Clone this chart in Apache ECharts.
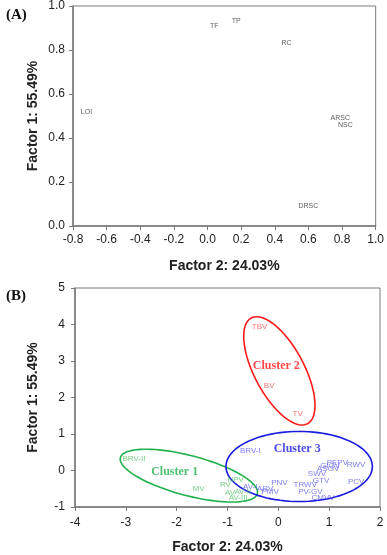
<!DOCTYPE html>
<html>
<head>
<meta charset="utf-8">
<script src="https://cdn.jsdelivr.net/npm/echarts@6/dist/echarts.min.js"></script>
<style>
  html, body { margin:0; padding:0; background:#fff; }
  #main { width:387px; height:555px; }
</style>
</head>
<body>
<div id="main"></div>
<script>
// (A) loadings
const loadingNames = ['TF', 'TP', 'RC', 'LOI', 'ARSC', 'NSC', 'DRSC'];
const loadingF2 = [0.04, 0.17, 0.47, -0.72, 0.79, 0.82, 0.60];
const loadingF1 = [0.91, 0.93, 0.83, 0.52, 0.49, 0.46, 0.09];

// (B) scores, per cluster
const c1Names = ['BRV-II', 'MV', 'RV', 'NPV', 'AV', 'AV-III', 'AV-II'];
const c1F2 = [-2.84, -1.57, -1.04, -0.84, -0.95, -0.79, -0.70];
const c1F1 = [0.33, -0.49, -0.38, -0.25, -0.60, -0.74, -0.58];

const c2Names = ['TBV', 'BV', 'TV'];
const c2F2 = [-0.37, -0.18, 0.38];
const c2F1 = [3.93, 2.32, 1.56];

const c3Names = ['BRV-I', 'AV-I', 'ARV', 'PMV', 'PNV', 'TRWV', 'PV-GV', 'CMVV', 'GTV', 'SWV', 'ASGV', 'GIGV', 'PEPV', 'RWV', 'PCV'];
const c3F2 = [-0.55, -0.55, -0.26, -0.16, 0.02, 0.53, 0.63, 0.88, 0.84, 0.76, 0.98, 1.02, 1.16, 1.53, 1.53];
const c3F1 = [0.55, -0.44, -0.49, -0.57, -0.33, -0.38, -0.57, -0.74, -0.27, -0.08, 0.05, 0.14, 0.22, 0.16, -0.30];

// cluster captions and ellipses: [centre x, centre y, semi-axis u (x,y), semi-axis v (x,y)]
const clusterNames = ['Cluster 1', 'Cluster 2', 'Cluster 3'];
const clusterLabelPos = [[-2.04, -0.03], [-0.04, 2.87], [0.37, 0.60]];
const clusterEllipses = [
  [-1.76, -0.14, 1.347, -0.493, -0.100, -0.529],
  [0.02, 2.73, 0.553, -1.448, -0.431, -0.322],
  [0.41, 0.11, 1.44, 0.0, 0.0, 0.96]
];
const clusterColors = ['#22b14c', '#ff1a1a', '#1a1ae0'];
const pointColors = ['#55c46c', '#ff5252', '#5c5cee'];

function pts(names, xs, ys) {
  return names.map((n, i) => ({ name: n, value: [xs[i], ys[i]] }));
}

const axisCommon = {
  splitLine: { show: false },
  axisLine: { onZero: false, lineStyle: { color: '#7a7a7a', width: 1.5 } },
  axisTick: { show: true, length: 4, lineStyle: { color: '#7a7a7a' } },
  axisLabel: { color: '#222', fontSize: 12, fontFamily: 'Liberation Sans' },
  nameTextStyle: { color: '#222', fontSize: 14, fontWeight: 'bold', fontFamily: 'Liberation Sans' },
  nameLocation: 'middle',
  nameMoveOverlap: false
};

function labelSeries(xi, data, color, size) {
  return {
    type: 'scatter',
    xAxisIndex: xi, yAxisIndex: xi,
    symbolSize: 1,
    itemStyle: { color: 'rgba(0,0,0,0)' },
    data: data,
    label: {
      show: true, position: 'inside', formatter: '{b}',
      color: color, fontSize: size, fontFamily: 'Liberation Sans'
    },
    silent: true
  };
}

function ellipseSeries(k) {
  return {
    type: 'custom',
    xAxisIndex: 1, yAxisIndex: 1,
    data: [clusterEllipses[k]],
    encode: { x: 0, y: 1 },
    silent: true,
    renderItem: function (params, api) {
      const e = clusterEllipses[k];
      const points = [];
      for (let i = 0; i < 96; i++) {
        const t = i / 96 * Math.PI * 2;
        points.push(api.coord([
          e[0] + Math.cos(t) * e[2] + Math.sin(t) * e[4],
          e[1] + Math.cos(t) * e[3] + Math.sin(t) * e[5]
        ]));
      }
      return {
        type: 'polygon',
        shape: { points: points },
        style: { fill: 'none', stroke: clusterColors[k], lineWidth: 1.6 }
      };
    }
  };
}

const series = [labelSeries(0, pts(loadingNames, loadingF2, loadingF1), '#333', 7)];
series.push(labelSeries(1, pts(c1Names, c1F2, c1F1), pointColors[0], 8));
series.push(labelSeries(1, pts(c2Names, c2F2, c2F1), pointColors[1], 8));
series.push(labelSeries(1, pts(c3Names, c3F2, c3F1), pointColors[2], 8));
for (let k = 0; k < 3; k++) {
  series.push(ellipseSeries(k));
  series.push({
    type: 'scatter',
    xAxisIndex: 1, yAxisIndex: 1,
    symbolSize: 1,
    itemStyle: { color: 'rgba(0,0,0,0)' },
    data: [{ name: clusterNames[k], value: clusterLabelPos[k] }],
    label: {
      show: true, position: 'inside', formatter: '{b}',
      color: clusterColors[k], fontSize: 12, fontWeight: 'bold',
      fontFamily: 'Liberation Serif'
    },
    silent: true
  });
}

const chart = echarts.init(document.getElementById('main'));
chart.setOption({
  animation: false,
  backgroundColor: '#fff',
  title: [
    { text: '(A)', left: 1, top: 3, textStyle: { fontSize: 15, fontWeight: 'bold', fontFamily: 'Liberation Serif', color: '#111' } },
    { text: '(B)', left: 1, top: 284, textStyle: { fontSize: 15, fontWeight: 'bold', fontFamily: 'Liberation Serif', color: '#111' } }
  ],
  grid: [
    { left: 73, right: 9, top: 6, height: 220, show: true, borderColor: '#7a7a7a', borderWidth: 1 },
    { left: 75, right: 7, top: 288, height: 220, show: true, borderColor: '#7a7a7a', borderWidth: 1 }
  ],
  xAxis: [
    Object.assign({}, axisCommon, {
      gridIndex: 0, type: 'value', min: -0.8, max: 1.0, interval: 0.2,
      name: 'Factor 2: 24.03%', nameGap: 33,
      axisLabel: Object.assign({}, axisCommon.axisLabel, { margin: 8, formatter: v => v.toFixed(1) })
    }),
    Object.assign({}, axisCommon, {
      gridIndex: 1, type: 'value', min: -4, max: 2, interval: 1,
      name: 'Factor 2: 24.03%', nameGap: 33,
      axisLabel: Object.assign({}, axisCommon.axisLabel, { margin: 10 })
    })
  ],
  yAxis: [
    Object.assign({}, axisCommon, {
      gridIndex: 0, type: 'value', min: 0, max: 1.0, interval: 0.2,
      name: 'Factor 1: 55.49%', nameGap: 33,
      axisLabel: Object.assign({}, axisCommon.axisLabel, { margin: 8, formatter: v => v.toFixed(1) })
    }),
    Object.assign({}, axisCommon, {
      gridIndex: 1, type: 'value', min: -1, max: 5, interval: 1,
      name: 'Factor 1: 55.49%', nameGap: 35,
      axisLabel: Object.assign({}, axisCommon.axisLabel, { margin: 10 })
    })
  ],
  series: series
});
</script>
</body>
</html>
